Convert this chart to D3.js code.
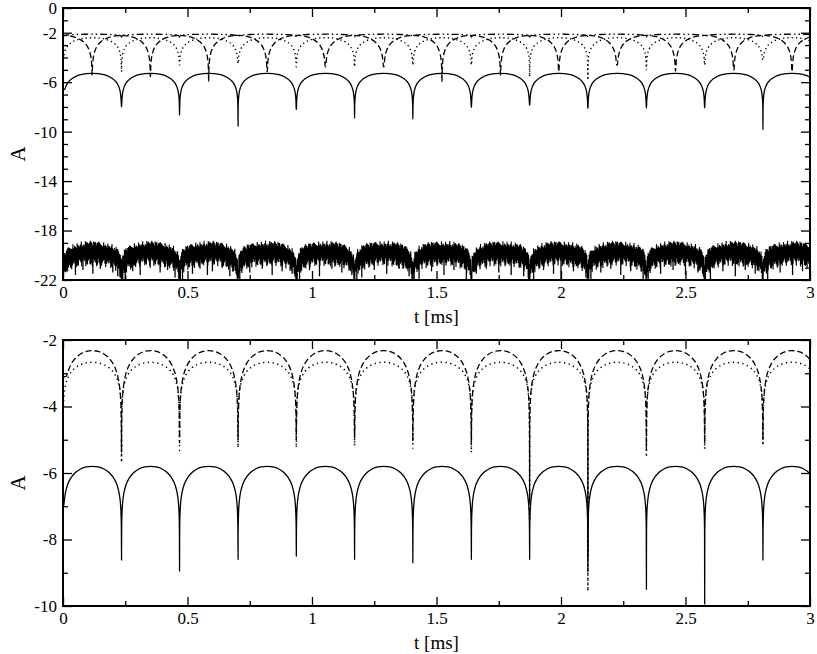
<!DOCTYPE html>
<html><head><meta charset="utf-8">
<script src="https://cdn.jsdelivr.net/npm/d3@7"></script>
<style>body{margin:0;background:#fff}</style></head>
<body>
<svg id="c" width="817" height="654"></svg>
<script>
// ---------- data ----------
const xTickMajor = [0, 0.5, 1, 1.5, 2, 2.5, 3];
const xTickLabels = ["0", "0.5", "1", "1.5", "2", "2.5", "3"];
const xTickMinor = [0.25, 0.75, 1.25, 1.75, 2.25, 2.75];
const topYMajor = [-22, -18, -14, -10, -6, -2, 0];
const topYMinor = [-21, -20, -19, -17, -16, -15, -13, -12, -11, -9, -8, -7, -5, -4, -3, -1];
const botYMajor = [-10, -8, -6, -4, -2];
const botYMinor = [-9, -7, -5, -3];

// dip positions (ms)
const dipTimes = [0, 0.235, 0.468, 0.703, 0.937, 1.171, 1.405, 1.64, 1.874, 2.108, 2.343, 2.577, 2.811, 3.045];
const halfDipTimes = [-0.117, 0.117, 0.351, 0.585, 0.82, 1.054, 1.288, 1.522, 1.757, 1.991, 2.225, 2.46, 2.694, 2.928, 3.162];
// shape of one arch: phase from a dip and drop below the arch top
const archPhase = [0, 0.002, 0.005, 0.01, 0.02, 0.035, 0.05, 0.075, 0.1, 0.15, 0.2, 0.3, 0.4, 0.5];
const archDrop  = [-2.6, -2.2, -1.8, -1.5, -1.2, -0.96, -0.81, -0.63, -0.51, -0.34, -0.23, -0.09, -0.02, 0];

// top panel
const topSolidDips  = [-6.6, -7.98, -8.66, -9.55, -8.2, -8.93, -8.98, -8.03, -7.85, -8.12, -8.07, -8.07, -9.82, -8.0];
const topDashedDips = [-5.3, -5.4, -5.55, -5.96, -5.15, -4.75, -4.75, -5.96, -5.42, -5.15, -4.61, -5.1, -5.0, -5.15, -5.0];
const topDottedDips = [-5.2, -5.15, -4.6, -4.48, -4.75, -4.75, -4.6, -4.6, -5.55, -5.83, -5.0, -4.6, -4.2, -4.5];
const topDashDotDips = [-2.35, -2.35, -2.35, -2.35, -2.35, -2.35, -2.35, -2.35, -2.35, -2.35, -2.35, -2.35, -2.35, -2.35];
const topPeaks = {solid: -5.28, dashed: -2.22, dotted: -2.4, dashdot: -2.12};

// noisy trace (top panel, near -20)
const noiseTopLevel = -19.0, noiseBottomLevel = -20.2;
const noiseJitHigh = [0.1,0.6,0.3,0.9,0.2,0.5,0.8,0.0,0.4,0.7,0.3,0.95,0.15,0.55,0.25,0.85,0.45,0.05,0.65,0.35,0.75,0.2,0.9,0.4,0.1,0.6,0.8,0.3,0.5,0.0,0.7,0.25,0.95,0.45,0.15,0.85,0.55];
const noiseJitLow = [0.2,0.8,0.4,0.1,0.9,0.5,0.3,0.7,0.0,0.6,0.35,0.85,0.15,0.45,0.95,0.25,0.65,0.05,0.75,0.55,0.3,0.9,0.1,0.5,0.7,0.2,0.8,0.4,0.6,0.0,1.0,0.35,0.15,0.85,0.45,0.65,0.25,0.75,0.55,0.05,0.95];
const noiseSpikeT = [0.01,0.03,0.05,0.08,0.12,0.15,0.2,0.22,0.24,0.25,0.28,0.31,0.35,0.39,0.42,0.45,0.47,0.48,0.52,0.55,0.58,0.6,0.64,0.67,0.7,0.71,0.75,0.8,0.84,0.88,0.92,0.94,0.95,0.99,1.03,1.08,1.12,1.16,1.18,1.2,1.25,1.3,1.35,1.39,1.41,1.43,1.48,1.53,1.57,1.62,1.64,1.66,1.7,1.75,1.8,1.85,1.87,1.89,1.93,1.97,2.0,2.05,2.1,2.12,2.16,2.2,2.24,2.28,2.33,2.35,2.4,2.45,2.5,2.55,2.58,2.6,2.65,2.7,2.74,2.78,2.81,2.83,2.88,2.93,2.97];
const noiseSpikeA = [-21.3,-21.0,-21.6,-21.2,-21.5,-21.1,-21.4,-21.7,-22,-22,-21.3,-21.6,-21.0,-21.4,-21.2,-21.8,-22,-22,-21.5,-21.1,-21.6,-21.3,-21.0,-21.7,-22,-22,-21.4,-21.1,-21.6,-21.3,-21.5,-22,-22,-21.2,-21.7,-21.1,-21.4,-21.6,-22,-21.8,-21.2,-21.5,-21.1,-21.7,-22,-21.9,-21.3,-21.6,-21.2,-22,-22,-21.5,-21.1,-21.4,-21.6,-21.7,-22,-22,-21.2,-21.5,-22,-21.3,-21.8,-22,-21.4,-21.1,-21.6,-21.3,-22,-22,-21.5,-21.2,-21.6,-21.4,-22,-22,-21.3,-21.7,-21.2,-21.5,-22,-22,-21.4,-21.6,-21.3];

// bottom panel
const botSolidDips  = [-7.0, -8.62, -8.95, -8.6, -8.5, -8.6, -8.7, -8.6, -8.6, -8.53, -9.5, -9.94, -8.62, -8.6];
const botDashedDips = [-3.1, -5.4, -5.1, -5.0, -5.0, -4.95, -5.05, -5.15, -6.9, -9.0, -5.3, -5.1, -5.0, -5.0];
const botDottedDips = [-5.0, -5.68, -5.32, -5.24, -5.23, -5.17, -5.26, -5.38, -7.44, -9.55, -5.52, -5.27, -5.17, -5.2];
const botPeaks = {solid: -5.8, dashed: -2.32, dotted: -2.67};

// ---------- drawing ----------
const svg = d3.select("#c");
const font = "Liberation Serif";

function archSeries(dips, depths, peak, scale) {
  const pts = [];
  for (let k = 0; k < dips.length - 1; k++) {
    const d0 = dips[k], d1 = dips[k + 1], L = d1 - d0;
    for (let j = 0; j < archPhase.length; j++) {
      const v = j === 0 ? depths[k] : Math.max(peak + scale * archDrop[j], depths[k]);
      pts.push([d0 + archPhase[j] * L, v]);
    }
    for (let j = archPhase.length - 2; j >= 0; j--) {
      const v = j === 0 ? depths[k + 1] : Math.max(peak + scale * archDrop[j], depths[k + 1]);
      pts.push([d1 - archPhase[j] * L, v]);
    }
  }
  return pts;
}

function panel(opts) {
  const {left, right, top, bottom, yDomain, yMajor, yMinor, id} = opts;
  const x = d3.scaleLinear().domain([0, 3]).range([left, right]);
  const y = d3.scaleLinear().domain(yDomain).range([bottom, top]);
  const g = svg.append("g");
  g.append("clipPath").attr("id", id).append("rect")
    .attr("x", left).attr("y", top).attr("width", right - left).attr("height", bottom - top);
  const plot = g.append("g").attr("clip-path", `url(#${id})`);

  const styleAxis = sel => {
    sel.attr("font-family", font).attr("font-size", 17);
    sel.select(".domain").remove();
    sel.selectAll("line").attr("stroke", "#000").attr("stroke-width", 1.3);
    sel.selectAll("text").attr("fill", "#000");
  };
  g.append("g").attr("transform", `translate(0,${bottom})`)
    .call(d3.axisBottom(x).tickValues(xTickMajor).tickFormat((d, i) => xTickLabels[i]).tickSizeInner(-9).tickSizeOuter(0).tickPadding(6))
    .call(styleAxis);
  g.append("g").attr("transform", `translate(0,${bottom})`)
    .call(d3.axisBottom(x).tickValues(xTickMinor).tickFormat("").tickSizeInner(-5).tickSizeOuter(0)).call(styleAxis);
  g.append("g").attr("transform", `translate(0,${top})`)
    .call(d3.axisTop(x).tickValues(xTickMajor).tickFormat("").tickSizeInner(-9).tickSizeOuter(0)).call(styleAxis);
  g.append("g").attr("transform", `translate(0,${top})`)
    .call(d3.axisTop(x).tickValues(xTickMinor).tickFormat("").tickSizeInner(-5).tickSizeOuter(0)).call(styleAxis);
  g.append("g").attr("transform", `translate(${left},0)`)
    .call(d3.axisLeft(y).tickValues(yMajor).tickFormat(d => String(d)).tickSizeInner(-9).tickSizeOuter(0).tickPadding(6))
    .call(styleAxis);
  g.append("g").attr("transform", `translate(${left},0)`)
    .call(d3.axisLeft(y).tickValues(yMinor).tickFormat("").tickSizeInner(-5).tickSizeOuter(0)).call(styleAxis);
  g.append("g").attr("transform", `translate(${right},0)`)
    .call(d3.axisRight(y).tickValues(yMajor).tickFormat("").tickSizeInner(-9).tickSizeOuter(0)).call(styleAxis);
  g.append("g").attr("transform", `translate(${right},0)`)
    .call(d3.axisRight(y).tickValues(yMinor).tickFormat("").tickSizeInner(-5).tickSizeOuter(0)).call(styleAxis);

  g.append("rect").attr("x", left).attr("y", top).attr("width", right - left).attr("height", bottom - top)
    .attr("fill", "none").attr("stroke", "#000").attr("stroke-width", 2);

  g.append("text").attr("x", (left + right) / 2).attr("y", bottom + 43)
    .attr("text-anchor", "middle").attr("font-family", font).attr("font-size", 19).text("t [ms]");
  g.append("g").attr("transform", `translate(25,${(top + bottom) / 2 + 10})`)
    .append("text").attr("transform", "rotate(-90)").attr("x", 0).attr("y", 0)
    .attr("text-anchor", "middle").attr("font-family", font).attr("font-size", 21).text("A");

  const line = d3.line().x(d => x(d[0])).y(d => y(d[1])).curve(d3.curveMonotoneX);
  return {x, y, plot, line};
}

function drawSeries(P, pts, dash, width) {
  P.plot.append("path").datum(pts).attr("d", P.line)
    .attr("fill", "none").attr("stroke", "#000").attr("stroke-width", width || 1.3)
    .attr("stroke-dasharray", dash || null);
}

// ----- top panel -----
const T = panel({left: 63, right: 810, top: 8, bottom: 280, yDomain: [-22, 0], yMajor: topYMajor, yMinor: topYMinor, id: "clipTop"});
drawSeries(T, archSeries(dipTimes, topSolidDips, topPeaks.solid, 1.3), null, 1.3);
drawSeries(T, archSeries(halfDipTimes, topDashedDips, topPeaks.dashed, 1.5), "6,3", 1.3);
drawSeries(T, archSeries(dipTimes, topDottedDips, topPeaks.dotted, 1.1), "1.3,3", 1.4);
drawSeries(T, archSeries(dipTimes, topDashDotDips, topPeaks.dashdot, 0.1), "7,3,1.5,3,1.5,3", 1.3);

// noisy trace
const dropAt = d3.scaleLinear().domain(archPhase).range(archDrop).clamp(true);
function phaseOf(t) {
  const k = Math.max(0, d3.bisectRight(dipTimes, t) - 1);
  const p = (t - dipTimes[k]) / (dipTimes[k + 1] - dipTimes[k]);
  return Math.min(p, 1 - p);
}
const noisePts = [];
const N = 1800;
for (let i = 0; i <= N; i++) {
  const t = 3 * i / N;
  const d = dropAt(phaseOf(t));
  let v;
  if (i % 2 === 0) v = noiseTopLevel + 0.85 * d - 0.45 * (noiseJitHigh[i % noiseJitHigh.length] - 0.4);
  else v = noiseBottomLevel + 0.85 * d - 0.7 * noiseJitLow[i % noiseJitLow.length];
  noisePts.push([t, v]);
}
T.plot.append("path").datum(noisePts)
  .attr("d", d3.line().x(d => T.x(d[0])).y(d => T.y(d[1])))
  .attr("fill", "none").attr("stroke", "#000").attr("stroke-width", 1.1);
T.plot.append("g").selectAll("line").data(noiseSpikeT).join("line")
  .attr("x1", d => T.x(d)).attr("x2", d => T.x(d))
  .attr("y1", d => T.y(noiseBottomLevel + 0.85 * dropAt(phaseOf(d))))
  .attr("y2", (d, i) => T.y(noiseSpikeA[i]))
  .attr("stroke", "#000").attr("stroke-width", 1.3);

// ----- bottom panel -----
const B = panel({left: 63, right: 810, top: 340, bottom: 606, yDomain: [-10, -2], yMajor: botYMajor, yMinor: botYMinor, id: "clipBot"});
drawSeries(B, archSeries(dipTimes, botSolidDips, botPeaks.solid, 0.9), null, 1.3);
drawSeries(B, archSeries(dipTimes, botDashedDips, botPeaks.dashed, 1.1), "6,3", 1.3);
drawSeries(B, archSeries(dipTimes, botDottedDips, botPeaks.dotted, 0.8), "1.3,3.5", 1.5);
</script>
</body></html>
